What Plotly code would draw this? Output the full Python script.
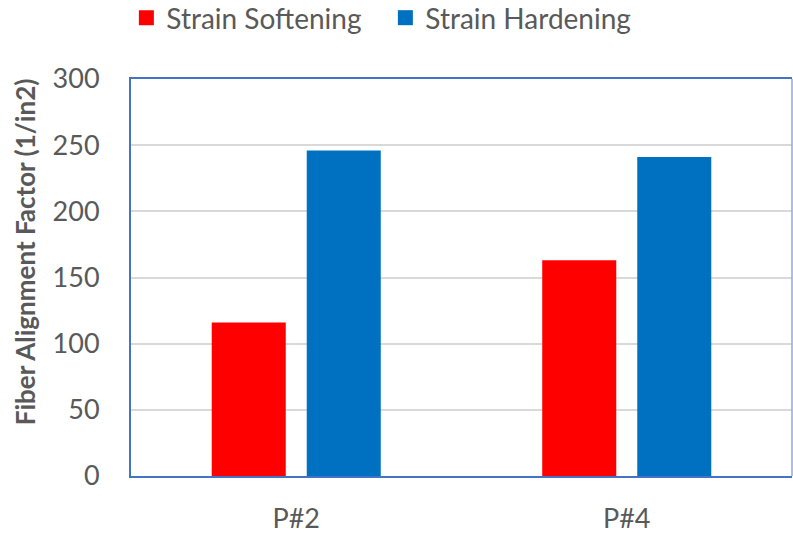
import plotly.graph_objects as go

categories = ["P#2", "P#4"]
softening = [116, 163]
hardening = [246, 241]
series_names = ["Strain Softening", "Strain Hardening"]
series_colors = ["#FF0000", "#0070C0"]
y_ticks = [0, 50, 100, 150, 200, 250, 300]

FONT = "Lato, Carlito, 'Open Sans', sans-serif"
GRAY = "#595959"
FRAME = "#4472C4"

fig = go.Figure()
for name, vals, col in zip(series_names, [softening, hardening], series_colors):
    fig.add_trace(go.Bar(x=categories, y=vals, name=name, showlegend=False,
                         marker=dict(color=col, line=dict(width=0))))
# legend entries with larger square symbols
for name, col in zip(series_names, series_colors):
    fig.add_trace(go.Scatter(x=[None], y=[None], mode="markers", name=name,
                             marker=dict(symbol="square", size=15, color=col)))

fig.update_layout(
    width=793, height=533,
    margin=dict(l=130.5, r=1.3, t=79, b=57, autoexpand=False),
    paper_bgcolor="white", plot_bgcolor="white",
    barmode="group", bargap=0.425, bargroupgap=0.221,
    font=dict(family=FONT, color=GRAY, size=26),
    legend=dict(orientation="h", x=-0.007, xanchor="left",
                yref="paper", y=1.1537, yanchor="middle",
                font=dict(size=28, color=GRAY), itemwidth=30,
                entrywidth=214,
                tracegroupgap=0, bgcolor="rgba(0,0,0,0)"),
    showlegend=True,
)
fig.update_xaxes(
    showline=True, linecolor=FRAME, linewidth=2, mirror=True,
    ticks="", ticklabelstandoff=18,
    tickfont=dict(size=27, color=GRAY),
)
fig.update_yaxes(
    range=[0, 300], tickvals=y_ticks,
    showline=True, linecolor=FRAME, linewidth=2,
    showgrid=True, gridcolor="#D9D9D9", gridwidth=1.5,
    ticks="", ticklabelstandoff=24, zeroline=False,
    tickfont=dict(size=27, color=GRAY),
)
fig.add_annotation(text="<b>Fiber Alignment Factor (1/in2)</b>", textangle=-90,
                   xref="paper", yref="paper", x=-0.161, y=0.565,
                   xanchor="center", yanchor="middle", showarrow=False,
                   font=dict(size=26, color=GRAY))
fig.add_shape(type="line", xref="paper", yref="paper", x0=1, x1=1, y0=0, y1=1,
              line=dict(color="#8FAADC", width=1.5))

fig.write_html("out.html", config={"displayModeBar": False},
               post_script="document.body.style.margin='0';")
